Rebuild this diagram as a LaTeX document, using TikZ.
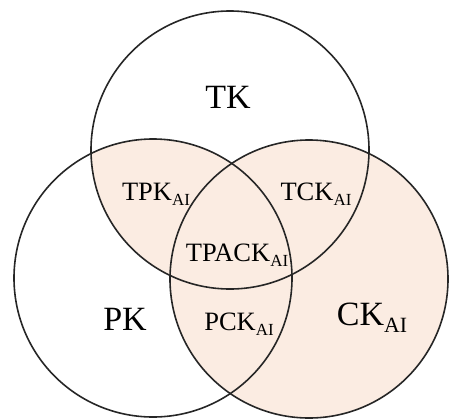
\documentclass[tikz,border=0pt]{standalone}
\usepackage{amsmath}
\usepackage{fontspec}
\usepackage{graphicx}
\setmainfont{Liberation Serif}
\usepackage{tikz}
\definecolor{peach}{RGB}{251,236,226}
\newcommand{\subAI}{\raisebox{-0.22em}{\scalebox{0.64}{AI}}}

\begin{document}
\begin{tikzpicture}[x=1pt,y=-1pt,
        ring/.style={draw=black!85,line width=1.6pt},
        bigtxt/.style={anchor=base,inner sep=0pt,font=\fontsize{34}{38}\selectfont},
        smalltxt/.style={anchor=base,inner sep=0pt,font=\fontsize{26.5}{30}\selectfont}]
                \useasboundingbox (0,0) rectangle (449,418);
                % Centres of the three circles
                \coordinate (t) at (230,150);
                \coordinate (p) at (153,278);
                \coordinate (c) at (309,279);
                % Shade the content circle and the technology-pedagogy overlap
                \fill[peach] (c) circle[radius=139pt];
                \begin{scope}
                    \clip (t) circle[radius=139pt];
                    \fill[peach] (p) circle[radius=139pt];
                \end{scope}
                % Draw the three circles
                \draw[ring] (t) circle[radius=139pt];
                \draw[ring] (p) circle[radius=139pt];
                \draw[ring] (c) circle[radius=139pt];
                % Labels of the regions
                \node[bigtxt] (tk) at (228,108) {TK};
                \node[bigtxt] (pk) at (125,330) {PK};
                \node[bigtxt] (ck) at (372,325) {CK\subAI};
                \node[smalltxt] (tpk) at (156,200) {TPK\subAI};
                \node[smalltxt] (tck) at (316,200) {TCK\subAI};
                \node[smalltxt] (tpack) at (237,261) {TPACK\subAI};
                \node[smalltxt] (pck) at (239,330) {PCK\subAI};
            \end{tikzpicture}
\end{document}
